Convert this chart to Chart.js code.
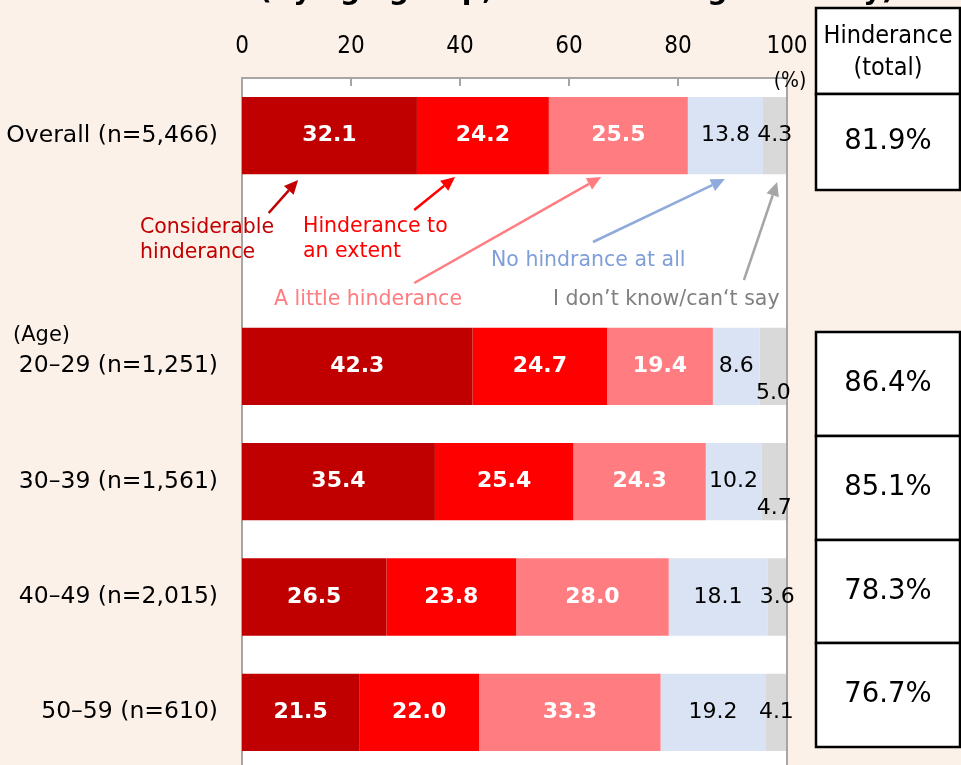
<!DOCTYPE html>
<html><head><meta charset="utf-8">
<script src="https://cdn.jsdelivr.net/npm/chart.js@4/dist/chart.umd.min.js"></script>
<style>
html,body{margin:0;padding:0;background:#FCF1E9;overflow:hidden;width:961px;height:765px}
canvas{display:block}
</style></head><body>
<canvas id="c" width="961" height="775"></canvas>
<script>
// Row labels (index 1 is an empty spacer row between "Overall" and the age groups)
const groups = ['Overall (n=5,466)', '', '20–29 (n=1,251)', '30–39 (n=1,561)', '40–49 (n=2,015)', '50–59 (n=610)'];
// Share of respondents (%) per answer
const considerable = [32.1, null, 42.3, 35.4, 26.5, 21.5];
const toAnExtent   = [24.2, null, 24.7, 25.4, 23.8, 22.0];
const aLittle      = [25.5, null, 19.4, 24.3, 28.0, 33.3];
const notAtAll     = [13.8, null, 8.6, 10.2, 18.1, 19.2];
const dontKnow     = [4.3, null, 5.0, 4.7, 3.6, 4.1];
const seriesNames  = ['Considerable hinderance', 'Hinderance to an extent', 'A little hinderance', 'No hindrance at all', 'I don’t know/can‘t say'];
// "Hinderance (total)" column: overall first, then the four age groups
const totalLabels  = ['81.9%', '86.4%', '85.1%', '78.3%', '76.7%'];
const xTickValues  = [0, 20, 40, 60, 80, 100];

const FONT = '"DejaVu Sans", sans-serif';
const COND = '"DejaVu Sans Condensed", "Liberation Sans Narrow", "DejaVu Sans", sans-serif';
const colors = ['#C00000', '#FF0000', '#FF7C80', '#DAE3F3', '#D9D9D9'];
const labelStyles = [
  {color: '#FFFFFF', weight: 'bold'},
  {color: '#FFFFFF', weight: 'bold'},
  {color: '#FFFFFF', weight: 'bold'},
  {color: '#000000', weight: 'normal'},
  {color: '#000000', weight: 'normal'}
];
// rows whose "don't know" value sits below the bar centre so it clears the neighbour label
const loweredDontKnowRows = [2, 3];

// Callouts under the "Overall" bar: arrow tip/tail in axis units (x) and pixels (y)
const callouts = [
  {lines: ['Considerable', 'hinderance'], tx: 140, ty: 228, color: '#C00000', arrow: '#C00000', tail: [4.9, 213], tip: [10.3, 180]},
  {lines: ['Hinderance to', 'an extent'], tx: 303, ty: 227, color: '#FF0000', arrow: '#FF0000', tail: [31.6, 210], tip: [39.1, 177]},
  {lines: [seriesNames[2]], tx: 274, ty: 300, color: '#FF7C80', arrow: '#FF7C80', tail: [31.6, 283], tip: [65.9, 177]},
  {lines: [seriesNames[3]], tx: 491, ty: 261, color: '#7F9FD9', arrow: '#8FAADC', tail: [64.4, 242], tip: [88.6, 179]},
  {lines: [seriesNames[4]], tx: 553, ty: 300, color: '#808080', arrow: '#A6A6A6', tail: [92.1, 280], tip: [98.2, 182]}
];

const plotDecor = {
  id: 'plotDecor',
  beforeDraw(chart) {
    const {ctx, chartArea: a} = chart;
    ctx.save();
    ctx.fillStyle = '#FFFFFF';
    ctx.fillRect(a.left, a.top, a.right - a.left, a.bottom - a.top + 10);
    ctx.restore();
  },
  afterDraw(chart) {
    const {ctx, chartArea: a} = chart;
    const xs = chart.scales.x;
    ctx.save();
    // frame: right edge of the plot and inward tick marks on the top axis
    ctx.strokeStyle = '#A6A6A6';
    ctx.lineWidth = 2;
    ctx.beginPath();
    ctx.moveTo(a.right, a.top);
    ctx.lineTo(a.right, a.bottom + 10);
    xs.ticks.forEach(t => {
      if (t.value === 0 || t.value === 100) return;
      const px = Math.round(xs.getPixelForValue(t.value));
      ctx.moveTo(px, a.top);
      ctx.lineTo(px, a.top + 8);
    });
    ctx.stroke();

    // unit
    ctx.fillStyle = '#000';
    ctx.font = '21px ' + COND;
    ctx.textAlign = 'center';
    ctx.textBaseline = 'middle';
    ctx.fillText('(%)', a.right + 3, 82);

    // age caption
    ctx.font = '21px ' + FONT;
    ctx.textAlign = 'left';
    ctx.fillText('(Age)', 13, 336);

    // value labels inside the segments
    chart.data.datasets.forEach((ds, di) => {
      const meta = chart.getDatasetMeta(di);
      const st = labelStyles[di];
      ctx.font = st.weight + ' 22px ' + FONT;
      ctx.fillStyle = st.color;
      ctx.textAlign = 'center';
      ctx.textBaseline = 'middle';
      meta.data.forEach((el, i) => {
        const v = ds.data[i];
        if (v === null || v === undefined) return;
        const cx = (el.base + el.x) / 2;
        let cy = el.y;
        if (di === 4 && loweredDontKnowRows.includes(i)) cy += 27;
        ctx.fillText(v.toFixed(1), cx, cy);
      });
    });

    // callouts
    callouts.forEach(c => {
      const x0 = xs.getPixelForValue(c.tail[0]), y0 = c.tail[1];
      const x1 = xs.getPixelForValue(c.tip[0]), y1 = c.tip[1];
      const ang = Math.atan2(y1 - y0, x1 - x0);
      const hl = 14, hw = 6.5;
      const bx = x1 - hl * Math.cos(ang), by = y1 - hl * Math.sin(ang);
      ctx.strokeStyle = c.arrow;
      ctx.fillStyle = c.arrow;
      ctx.lineWidth = 2.5;
      ctx.beginPath();
      ctx.moveTo(x0, y0);
      ctx.lineTo(bx, by);
      ctx.stroke();
      ctx.beginPath();
      ctx.moveTo(x1, y1);
      ctx.lineTo(bx + hw * Math.sin(ang), by - hw * Math.cos(ang));
      ctx.lineTo(bx - hw * Math.sin(ang), by + hw * Math.cos(ang));
      ctx.closePath();
      ctx.fill();
      ctx.fillStyle = c.color;
      ctx.font = '20.5px ' + FONT;
      ctx.textAlign = 'left';
      ctx.textBaseline = 'middle';
      c.lines.forEach((ln, k) => ctx.fillText(ln, c.tx, c.ty + k * 25));
    });

    // heading (runs off the top edge, partly behind the table)
    ctx.fillStyle = '#000';
    ctx.font = 'bold 28px ' + FONT;
    ctx.textAlign = 'left';
    ctx.textBaseline = 'alphabetic';
    ctx.fillText('(By age group, those working currently)', 259, -1);

    // "Hinderance (total)" table
    const tl = 816, tr = 960;
    ctx.lineWidth = 2.5;
    ctx.strokeStyle = '#000';
    const cell = (top, bottom) => {
      ctx.fillStyle = '#FFFFFF';
      ctx.fillRect(tl, top, tr - tl, bottom - top);
      ctx.strokeRect(tl, top, tr - tl, bottom - top);
    };
    cell(8, 94);
    cell(94, 190);
    const rowTops = [332, 436, 540, 643, 747];
    for (let r = 0; r < 4; r++) cell(rowTops[r], rowTops[r + 1]);
    ctx.fillStyle = '#000';
    ctx.textAlign = 'center';
    ctx.textBaseline = 'middle';
    ctx.font = '25px ' + COND;
    ctx.fillText('Hinderance', 888, 36);
    ctx.fillText('(total)', 888, 68);
    ctx.font = '27.5px ' + FONT;
    ctx.fillText(totalLabels[0], 888, 142);
    for (let r = 0; r < 4; r++) ctx.fillText(totalLabels[r + 1], 888, rowTops[r] + 52);
    ctx.restore();
  }
};

const data = [considerable, toAnExtent, aLittle, notAtAll, dontKnow];
new Chart(document.getElementById('c'), {
  type: 'bar',
  data: {
    labels: groups,
    datasets: data.map((d, i) => ({
      label: seriesNames[i],
      data: d,
      backgroundColor: colors[i],
      borderWidth: 0,
      barPercentage: 0.67,
      categoryPercentage: 1
    }))
  },
  options: {
    indexAxis: 'y',
    responsive: false,
    animation: false,
    events: [],
    layout: {padding: {top: 0, left: 0, right: 174, bottom: 5}},
    plugins: {legend: {display: false}, tooltip: {enabled: false}, title: {display: false}},
    scales: {
      x: {
        type: 'linear', position: 'top', stacked: true, min: 0, max: 100,
        afterBuildTicks: s => { s.ticks = xTickValues.map(v => ({value: v})); },
        afterFit: s => { s.height = 78; s.paddingLeft = 0; s.paddingRight = 0; },
        grid: {display: false, drawTicks: false},
        border: {display: true, color: '#A6A6A6', width: 2},
        ticks: {color: '#000', font: {family: COND, size: 24}, padding: 17, maxRotation: 0}
      },
      y: {
        stacked: true,
        afterFit: s => { s.width = 242; s.paddingTop = 0; s.paddingBottom = 0; },
        grid: {display: false, drawTicks: false},
        border: {display: true, color: '#A6A6A6', width: 2},
        ticks: {color: '#000', font: {family: FONT, size: 23.5}, padding: 24, autoSkip: false}
      }
    }
  },
  plugins: [plotDecor]
});
</script>
</body></html>
